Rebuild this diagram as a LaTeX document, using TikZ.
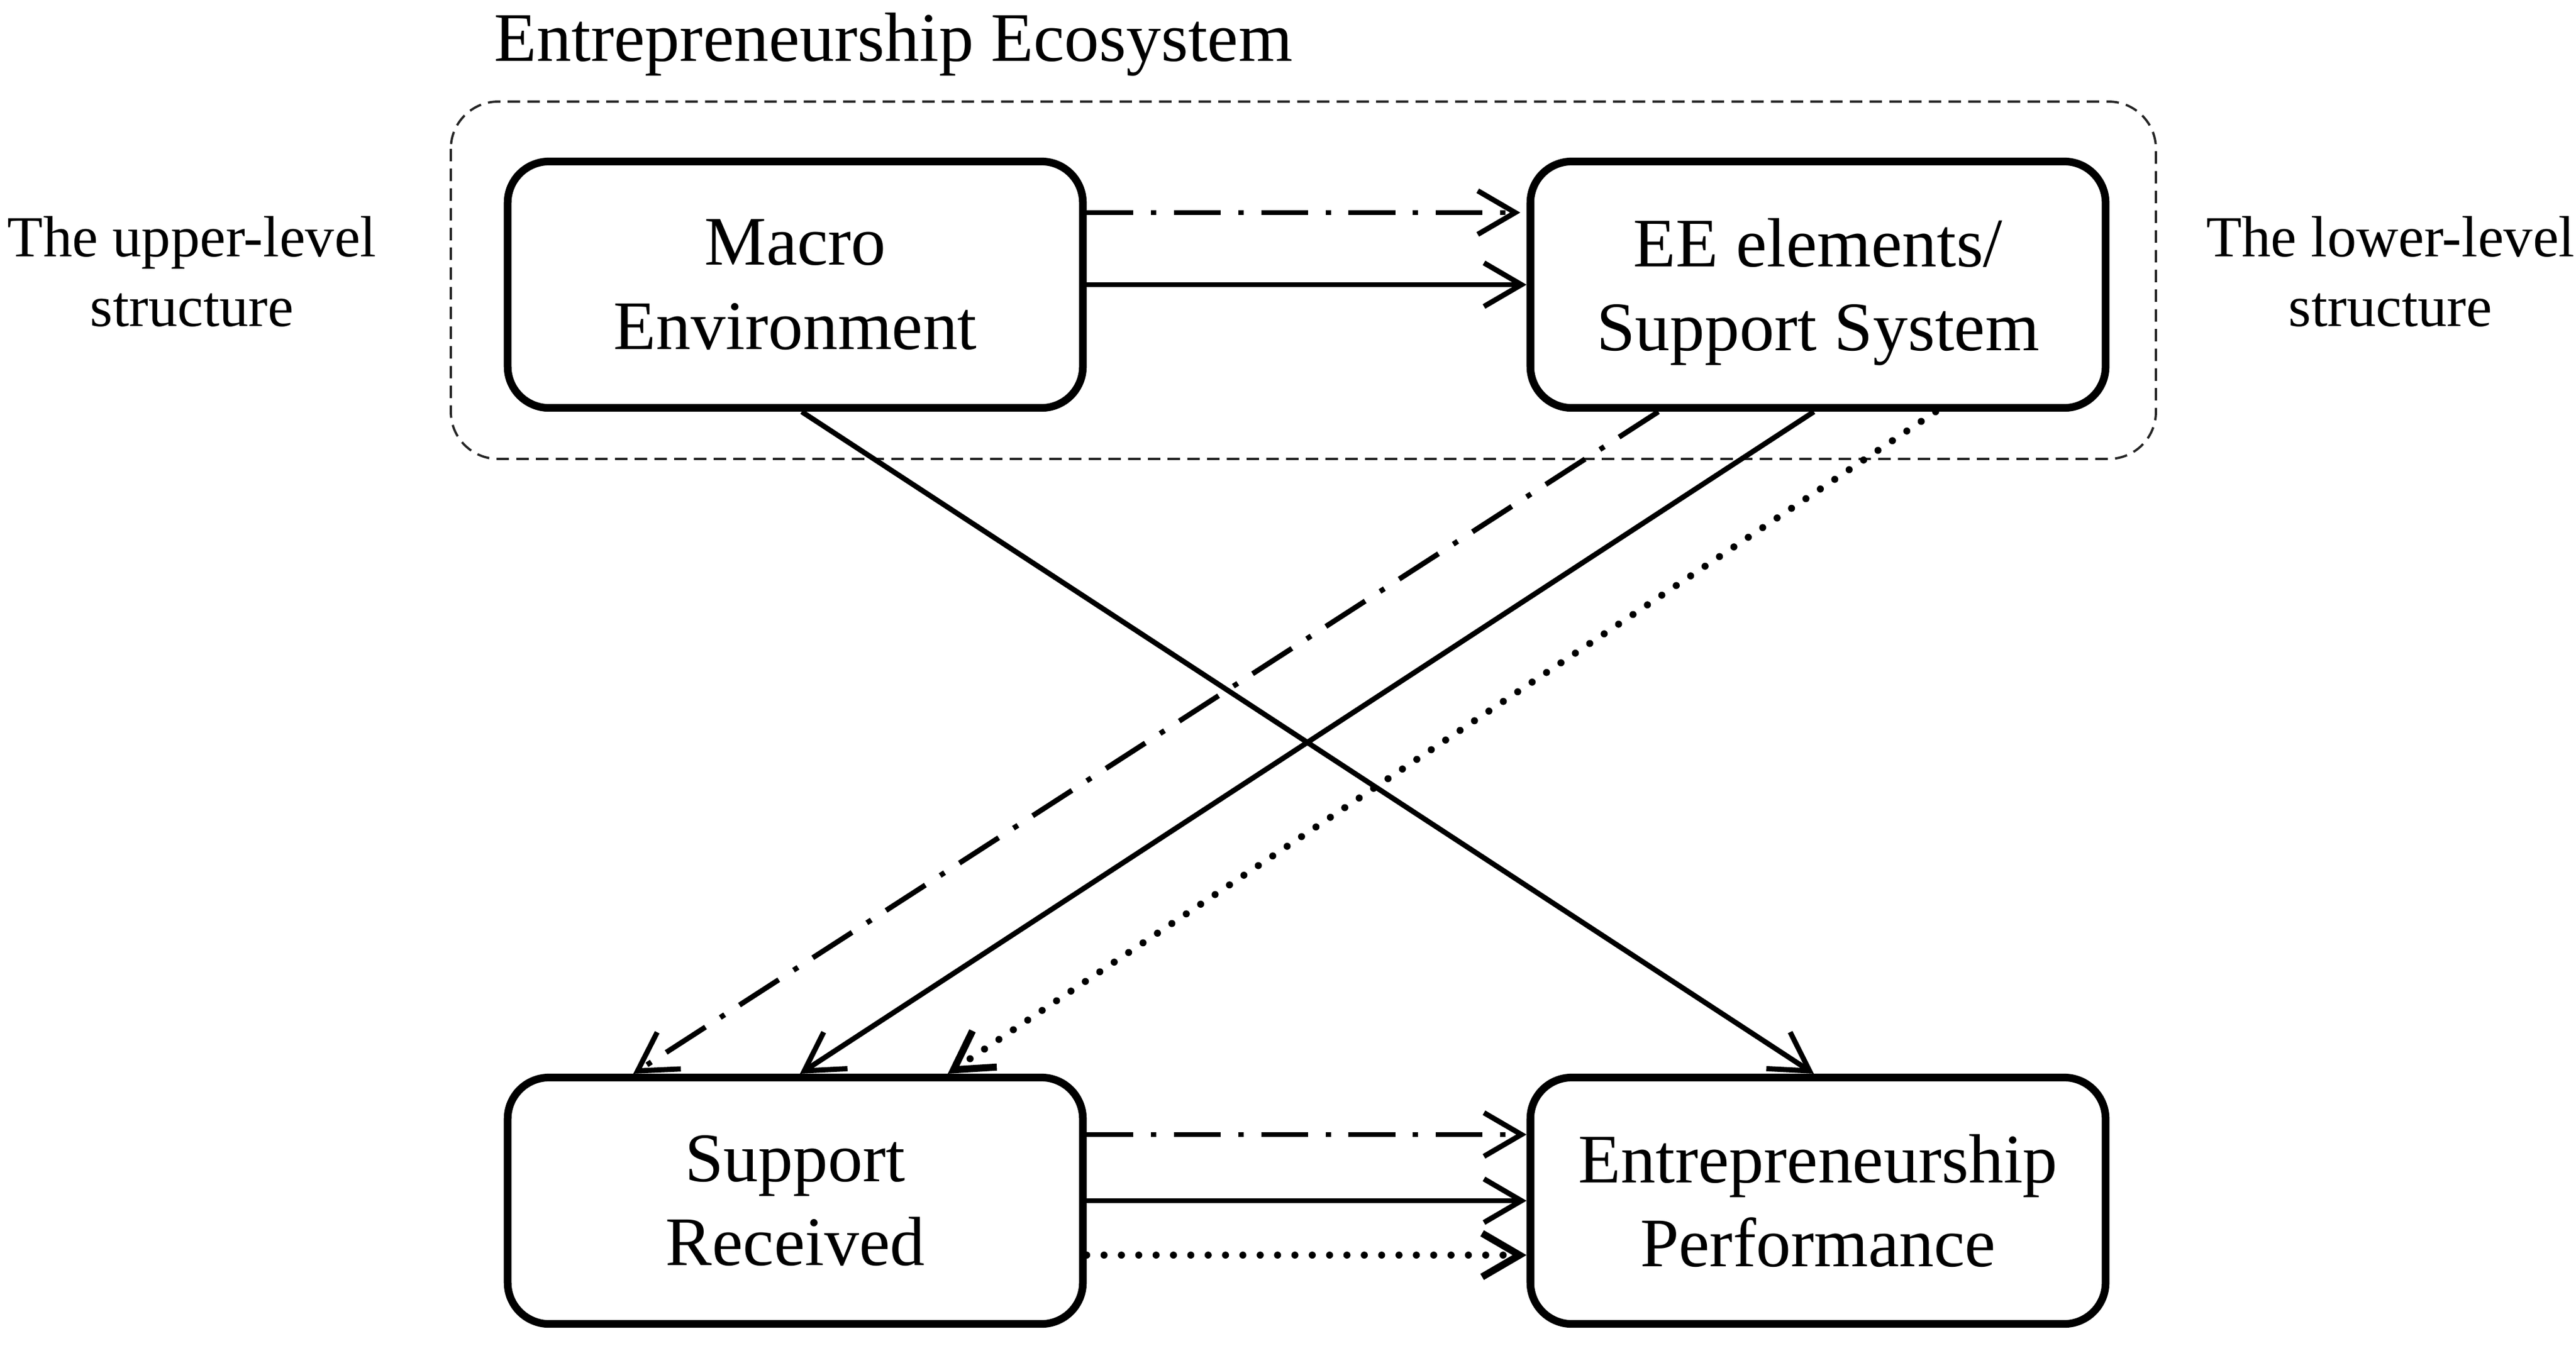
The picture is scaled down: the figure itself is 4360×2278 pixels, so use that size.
\documentclass[tikz,border=0pt]{standalone}
\usepackage{fontspec}
\setmainfont{Liberation Serif}
\usetikzlibrary{arrows.meta}
\begin{document}
\begin{tikzpicture}[x=0.01cm, y=-0.01cm,
  box/.style={draw, line width=3.7pt, rounded corners=0.7cm, minimum width=9.73cm,
    minimum height=4.17cm, align=center, inner sep=0pt,
    font=\fontsize{33.5}{40.4}\selectfont},
  conn/.style={line width=2.5pt, -{Straight Barb[length=18pt, width=21pt]}},
  dashdot/.style={dash pattern=on 22.5pt off 8.5pt on 2.5pt off 8.5pt},
  dots/.style={line width=3.4pt, line cap=round, dash pattern=on 0pt off 8.35pt},
  side/.style={align=center, font=\fontsize{28}{33.6}\selectfont, inner sep=0pt},
  ecoframe/.style={draw=black!85, line width=1.1pt, dash pattern=on 6pt off 3.5pt,
    rounded corners=0.8cm}
]
\useasboundingbox (0,0) rectangle (4360,2278);

% container
\draw[ecoframe] (763,172) rectangle (3649,777);
\node[anchor=base west, inner sep=0pt, font=\fontsize{33.5}{40.4}\selectfont]
  (title) at (836,103) {Entrepreneurship Ecosystem};

% side labels
\node[side] (upper) at (325,460) {The upper-level\\structure};
\node[side] (lower) at (4046,460) {The lower-level\\structure};

% boxes
\node[box] (macro) at (1346,482) {Macro\\Environment};
\node[box] (ee)    at (3077,482) {EE elements/\\\smash{Support System}};
\node[box] (sr)    at (1346,2033) {Support\\Received};
\node[box] (ep)    at (3077,2033) {Entrepreneurship\\Performance};

% horizontal connectors, top
\draw[conn, dashdot, shorten >=3pt] ([yshift=1.22cm]macro.east) -- ([yshift=1.22cm]ee.west);
\draw[conn] (macro.east) -- (ee.west);

% horizontal connectors, bottom
\draw[conn, dashdot] ([yshift=1.12cm]sr.east) -- ([yshift=1.12cm]ep.west);
\draw[conn] (sr.east) -- (ep.west);
\draw[conn, dots] ([yshift=-0.92cm]sr.east) -- ([yshift=-0.92cm]ep.west);

% diagonal connectors
\draw[conn] ([xshift=0.11cm]macro.south) -- ([xshift=-0.07cm]ep.north);
\draw[conn] ([xshift=-0.07cm]ee.south) -- ([xshift=0.08cm]sr.north);
\draw[conn, dashdot] ([xshift=-2.70cm]ee.south) -- ([xshift=-2.74cm]sr.north);
\draw[conn, dots] ([xshift=1.99cm]ee.south) -- ([xshift=2.58cm]sr.north);
\end{tikzpicture}
\end{document}
